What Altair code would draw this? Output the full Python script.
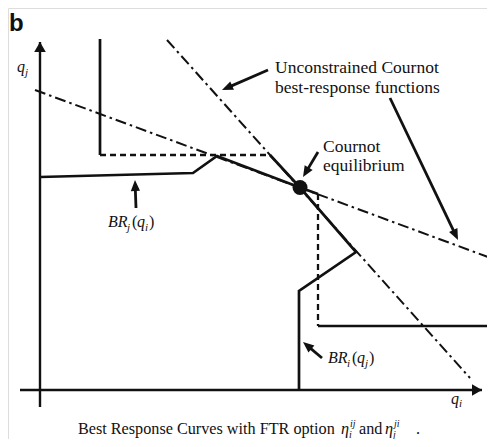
import math
import altair as alt
import pandas as pd

# ---------------- data (q_i on x, q_j on y) ----------------
# unconstrained Cournot best-response functions (dash-dot)
bri_unc_qi = [12.7, 43.0]
bri_unc_qj = [35.0, 1.2]
brj_unc_qi = [-0.5, 44.8]
brj_unc_qj = [30.0, 13.3]

# constrained BR_i(q_j)
bri_top_qi = [6.0, 6.0]
bri_top_qj = [35.1, 23.5]
bri_jump_qi = [6.0, 23.0]
bri_jump_qj = [23.5, 23.5]
bri_low_qi = [23.0, 26.0, 31.6, 25.9, 25.9]
bri_low_qj = [23.5, 20.25, 13.8, 9.9, 0.0]

# constrained BR_j(q_i)
brj_left_qi = [0.0, 15.3, 17.7, 26.0, 27.8]
brj_left_qj = [21.3, 21.7, 23.4, 20.25, 19.6]
brj_jump_qi = [27.8, 27.8]
brj_jump_qj = [19.6, 6.4]
brj_right_qi = [27.8, 44.7]
brj_right_qj = [6.4, 6.4]

# Cournot equilibrium
eq_qi = [26.0]
eq_qj = [20.25]

# axes (with arrow tips)
xaxis_qi = [-2.0, 44.2]
xaxis_qj = [0.0, 0.0]
yaxis_qi = [0.0, 0.0]
yaxis_qj = [-1.7, 34.8]

# annotation arrows: tail -> tip
arrow_names = ["unc1", "unc2", "eq", "brj", "bri"]
arrow_tail_qi = [22.8, 35.0, 27.8, 9.6, 28.2]
arrow_tail_qj = [32.0, 29.2, 23.8, 18.2, 3.2]
arrow_tip_qi = [18.2, 41.8, 26.3, 9.5, 26.3]
arrow_tip_qj = [30.0, 15.0, 21.3, 21.0, 4.8]

# ---------------- helpers ----------------
XD = [-3.2, 44.7]
YD = [-4.9, 38.2]
W, H = 479, 431
SERIF = "Liberation Serif"

xs = alt.Scale(domain=XD)
ys = alt.Scale(domain=YD)


def enc(**kw):
    return dict(x=alt.X("qi:Q", scale=xs, axis=None),
                y=alt.Y("qj:Q", scale=ys, axis=None), **kw)


def seg_df(qi, qj):
    return pd.DataFrame({"qi": qi, "qj": qj, "o": list(range(len(qi)))})


def line(qi, qj, width=2.6, dash=None):
    kw = dict(color="#111", strokeWidth=width, clip=False,
              strokeCap="butt", strokeJoin="miter")
    if dash:
        kw["strokeDash"] = dash
    return alt.Chart(seg_df(qi, qj)).mark_line(**kw).encode(**enc(order="o:Q"))


def angle_of(tqi, tqj, hqi, hqj):
    return (math.degrees(math.atan2(hqi - tqi, hqj - tqj)) + 360) % 360


HEAD_AXIS = "M0,0 L0.58,1 L-0.58,1 Z"
HEAD_ANN = "M0,0 L0.42,1 L-0.42,1 Z"


def heads(qi, qj, angs, shape, size):
    df = pd.DataFrame({"qi": qi, "qj": qj, "ang": angs})
    return alt.Chart(df).mark_point(shape=shape, size=size, filled=True,
                                    color="#111", opacity=1, clip=False,
                                    strokeWidth=0).encode(
        **enc(angle=alt.Angle("ang:Q", scale=None)))


def piece(qi, qj, text, size, style="normal", dx=0, dy=0, weight="normal",
          font=SERIF, baseline="alphabetic"):
    df = pd.DataFrame({"qi": [qi], "qj": [qj], "t": [text]})
    return alt.Chart(df).mark_text(align="left", baseline=baseline, font=font,
                                   fontSize=size, fontStyle=style,
                                   fontWeight=weight, dx=dx, dy=dy,
                                   color="#111", clip=False).encode(
        **enc(text="t:N"))


layers = []

# axes
layers.append(line(xaxis_qi, xaxis_qj, 2.4))
layers.append(line(yaxis_qi, yaxis_qj, 2.4))
layers.append(heads([xaxis_qi[1], yaxis_qi[1]], [xaxis_qj[1], yaxis_qj[1]],
                    [90, 0], HEAD_AXIS, 400))

# unconstrained (dash-dot)
DD = [11, 4, 2.5, 4]
layers.append(line(bri_unc_qi, bri_unc_qj, 2.0, DD))
layers.append(line(brj_unc_qi, brj_unc_qj, 2.0, DD))

# constrained curves
layers.append(line(bri_top_qi, bri_top_qj, 2.7))
layers.append(line(bri_jump_qi, bri_jump_qj, 2.3, [6, 4]))
layers.append(line(bri_low_qi, bri_low_qj, 2.7))
layers.append(line(brj_left_qi, brj_left_qj, 2.7))
layers.append(line(brj_jump_qi, brj_jump_qj, 2.3, [6, 4]))
layers.append(line(brj_right_qi, brj_right_qj, 2.7))

# equilibrium dot
layers.append(alt.Chart(pd.DataFrame({"qi": eq_qi, "qj": eq_qj}))
              .mark_point(shape="circle", size=225, filled=True, color="#111",
                          opacity=1).encode(**enc()))

# annotation arrows
angs = []
for n, tqi, tqj, hqi, hqj in zip(arrow_names, arrow_tail_qi, arrow_tail_qj,
                                 arrow_tip_qi, arrow_tip_qj):
    a = angle_of(tqi, tqj, hqi, hqj)
    angs.append(a)
    L = math.hypot(hqi - tqi, hqj - tqj)
    k = (L - 0.6) / L
    layers.append(line([tqi, tqi + (hqi - tqi) * k], [tqj, tqj + (hqj - tqj) * k], 2.8))
layers.append(heads(arrow_tip_qi, arrow_tip_qj, angs, HEAD_ANN, 484))

# panel letter
layers.append(piece(-3.1, 35.95, "b", 24, weight="bold", font="Liberation Sans"))

# texts
layers.append(piece(23.5, 32.2, "Unconstrained Cournot", 17.5, baseline="middle"))
layers.append(piece(23.5, 30.2, "best-response functions", 17.5, baseline="middle"))
layers.append(piece(28.3, 24.3, "Cournot", 17.5, baseline="middle"))
layers.append(piece(28.3, 22.4, "equilibrium", 17.5, baseline="middle"))

# axis labels
layers.append(piece(-2.3, 31.8, "q", 16, "italic"))
layers.append(piece(-2.3, 31.8, "j", 11, "italic", dx=8, dy=4))
layers.append(piece(41.1, -1.4, "q", 16, "italic"))
layers.append(piece(41.1, -1.4, "i", 11, "italic", dx=8, dy=3))


def br_label(qi, qj, sub1, sub2):
    return [
        piece(qi, qj, "BR", 16, "italic"),
        piece(qi, qj, sub1, 11, "italic", dx=19, dy=4),
        piece(qi, qj, "(", 16, dx=24),
        piece(qi, qj, "q", 16, "italic", dx=29),
        piece(qi, qj, sub2, 11, "italic", dx=37, dy=4),
        piece(qi, qj, ")", 16, dx=41),
    ]


layers += br_label(6.8, 16.3, "j", "i")
layers += br_label(28.8, 2.7, "i", "j")

# caption
cq, cj = 3.8, -4.4
layers.append(piece(cq, cj, "Best Response Curves with FTR option", 16.2))
layers.append(piece(cq, cj, "η", 16.2, "italic", dx=263))
layers.append(piece(cq, cj, "ij", 10, "italic", dx=272, dy=-7))
layers.append(piece(cq, cj, "i", 10, "italic", dx=271, dy=4))
layers.append(piece(cq, cj, "and", 16.2, dx=281))
layers.append(piece(cq, cj, "η", 16.2, "italic", dx=307))
layers.append(piece(cq, cj, "ji", 10, "italic", dx=316, dy=-7))
layers.append(piece(cq, cj, "j", 10, "italic", dx=315, dy=4))
layers.append(piece(cq, cj, ".", 16.2, dx=338))

chart = alt.layer(*layers).properties(
    width=W, height=H, padding=0,
    autosize=alt.AutoSizeParams(type="none"),
).configure_view(stroke=None).configure(background="white")

chart.save("out.html", embed_options={"renderer": "svg", "actions": False})
